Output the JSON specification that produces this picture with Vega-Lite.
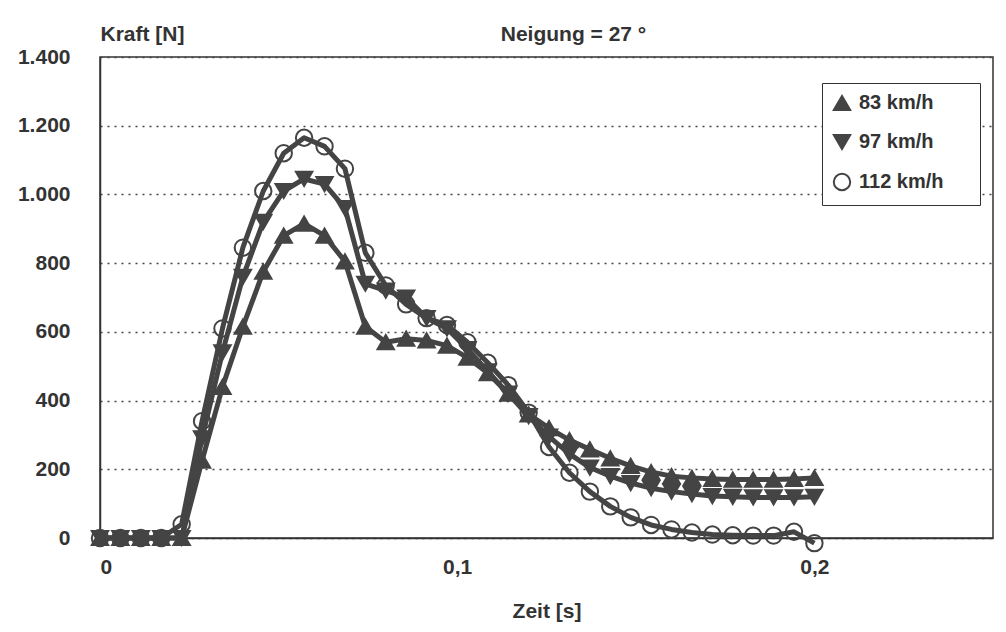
{
  "$schema": "https://vega.github.io/schema/vega-lite/v6.json",
  "width": 893,
  "height": 481,
  "autosize": {"type": "none"},
  "padding": {"left": 100, "top": 57, "right": 13, "bottom": 94},
  "background": "white",
  "config": {
    "locale": {"number": {"decimal": ",", "thousands": ".", "grouping": [3], "currency": ["", " €"]}},
    "font": "Liberation Sans",
    "view": {"stroke": "#333", "strokeWidth": 1.5}
  },
  "title": {
    "text": "Neigung = 27 °",
    "frame": "group",
    "anchor": "middle",
    "dx": 27,
    "offset": -39,
    "baseline": "alphabetic",
    "fontSize": 21,
    "fontWeight": "bold",
    "color": "#333",
    "font": "Liberation Sans"
  },
  "data": {
    "values": [
      {"t": 0, "f": 0, "s": "83 km/h"},
      {"t": 0.00571, "f": 0, "s": "83 km/h"},
      {"t": 0.01143, "f": 0, "s": "83 km/h"},
      {"t": 0.01714, "f": 0, "s": "83 km/h"},
      {"t": 0.02286, "f": 0, "s": "83 km/h"},
      {"t": 0.02857, "f": 225, "s": "83 km/h"},
      {"t": 0.03429, "f": 440, "s": "83 km/h"},
      {"t": 0.04, "f": 615, "s": "83 km/h"},
      {"t": 0.04571, "f": 775, "s": "83 km/h"},
      {"t": 0.05143, "f": 880, "s": "83 km/h"},
      {"t": 0.05714, "f": 915, "s": "83 km/h"},
      {"t": 0.06286, "f": 880, "s": "83 km/h"},
      {"t": 0.06857, "f": 805, "s": "83 km/h"},
      {"t": 0.07429, "f": 615, "s": "83 km/h"},
      {"t": 0.08, "f": 570, "s": "83 km/h"},
      {"t": 0.08571, "f": 580, "s": "83 km/h"},
      {"t": 0.09143, "f": 575, "s": "83 km/h"},
      {"t": 0.09714, "f": 560, "s": "83 km/h"},
      {"t": 0.10286, "f": 525, "s": "83 km/h"},
      {"t": 0.10857, "f": 480, "s": "83 km/h"},
      {"t": 0.11429, "f": 420, "s": "83 km/h"},
      {"t": 0.12, "f": 360, "s": "83 km/h"},
      {"t": 0.12571, "f": 320, "s": "83 km/h"},
      {"t": 0.13143, "f": 285, "s": "83 km/h"},
      {"t": 0.13714, "f": 258, "s": "83 km/h"},
      {"t": 0.14286, "f": 232, "s": "83 km/h"},
      {"t": 0.14857, "f": 210, "s": "83 km/h"},
      {"t": 0.15429, "f": 192, "s": "83 km/h"},
      {"t": 0.16, "f": 180, "s": "83 km/h"},
      {"t": 0.16571, "f": 175, "s": "83 km/h"},
      {"t": 0.17143, "f": 172, "s": "83 km/h"},
      {"t": 0.17714, "f": 170, "s": "83 km/h"},
      {"t": 0.18286, "f": 170, "s": "83 km/h"},
      {"t": 0.18857, "f": 170, "s": "83 km/h"},
      {"t": 0.19429, "f": 172, "s": "83 km/h"},
      {"t": 0.2, "f": 175, "s": "83 km/h"},
      {"t": 0, "f": 0, "s": "97 km/h"},
      {"t": 0.00571, "f": 0, "s": "97 km/h"},
      {"t": 0.01143, "f": 0, "s": "97 km/h"},
      {"t": 0.01714, "f": 0, "s": "97 km/h"},
      {"t": 0.02286, "f": 0, "s": "97 km/h"},
      {"t": 0.02857, "f": 290, "s": "97 km/h"},
      {"t": 0.03429, "f": 540, "s": "97 km/h"},
      {"t": 0.04, "f": 760, "s": "97 km/h"},
      {"t": 0.04571, "f": 920, "s": "97 km/h"},
      {"t": 0.05143, "f": 1010, "s": "97 km/h"},
      {"t": 0.05714, "f": 1045, "s": "97 km/h"},
      {"t": 0.06286, "f": 1030, "s": "97 km/h"},
      {"t": 0.06857, "f": 960, "s": "97 km/h"},
      {"t": 0.07429, "f": 740, "s": "97 km/h"},
      {"t": 0.08, "f": 720, "s": "97 km/h"},
      {"t": 0.08571, "f": 700, "s": "97 km/h"},
      {"t": 0.09143, "f": 640, "s": "97 km/h"},
      {"t": 0.09714, "f": 610, "s": "97 km/h"},
      {"t": 0.10286, "f": 550, "s": "97 km/h"},
      {"t": 0.10857, "f": 485, "s": "97 km/h"},
      {"t": 0.11429, "f": 420, "s": "97 km/h"},
      {"t": 0.12, "f": 355, "s": "97 km/h"},
      {"t": 0.12571, "f": 295, "s": "97 km/h"},
      {"t": 0.13143, "f": 245, "s": "97 km/h"},
      {"t": 0.13714, "f": 205, "s": "97 km/h"},
      {"t": 0.14286, "f": 180, "s": "97 km/h"},
      {"t": 0.14857, "f": 160, "s": "97 km/h"},
      {"t": 0.15429, "f": 145, "s": "97 km/h"},
      {"t": 0.16, "f": 135, "s": "97 km/h"},
      {"t": 0.16571, "f": 128, "s": "97 km/h"},
      {"t": 0.17143, "f": 122, "s": "97 km/h"},
      {"t": 0.17714, "f": 120, "s": "97 km/h"},
      {"t": 0.18286, "f": 118, "s": "97 km/h"},
      {"t": 0.18857, "f": 118, "s": "97 km/h"},
      {"t": 0.19429, "f": 118, "s": "97 km/h"},
      {"t": 0.2, "f": 120, "s": "97 km/h"},
      {"t": 0, "f": 0, "s": "112 km/h"},
      {"t": 0.00571, "f": 0, "s": "112 km/h"},
      {"t": 0.01143, "f": 0, "s": "112 km/h"},
      {"t": 0.01714, "f": 0, "s": "112 km/h"},
      {"t": 0.02286, "f": 40, "s": "112 km/h"},
      {"t": 0.02857, "f": 340, "s": "112 km/h"},
      {"t": 0.03429, "f": 610, "s": "112 km/h"},
      {"t": 0.04, "f": 845, "s": "112 km/h"},
      {"t": 0.04571, "f": 1010, "s": "112 km/h"},
      {"t": 0.05143, "f": 1120, "s": "112 km/h"},
      {"t": 0.05714, "f": 1165, "s": "112 km/h"},
      {"t": 0.06286, "f": 1140, "s": "112 km/h"},
      {"t": 0.06857, "f": 1075, "s": "112 km/h"},
      {"t": 0.07429, "f": 830, "s": "112 km/h"},
      {"t": 0.08, "f": 735, "s": "112 km/h"},
      {"t": 0.08571, "f": 680, "s": "112 km/h"},
      {"t": 0.09143, "f": 640, "s": "112 km/h"},
      {"t": 0.09714, "f": 620, "s": "112 km/h"},
      {"t": 0.10286, "f": 570, "s": "112 km/h"},
      {"t": 0.10857, "f": 510, "s": "112 km/h"},
      {"t": 0.11429, "f": 445, "s": "112 km/h"},
      {"t": 0.12, "f": 365, "s": "112 km/h"},
      {"t": 0.12571, "f": 265, "s": "112 km/h"},
      {"t": 0.13143, "f": 190, "s": "112 km/h"},
      {"t": 0.13714, "f": 135, "s": "112 km/h"},
      {"t": 0.14286, "f": 92, "s": "112 km/h"},
      {"t": 0.14857, "f": 60, "s": "112 km/h"},
      {"t": 0.15429, "f": 38, "s": "112 km/h"},
      {"t": 0.16, "f": 25, "s": "112 km/h"},
      {"t": 0.16571, "f": 16, "s": "112 km/h"},
      {"t": 0.17143, "f": 10, "s": "112 km/h"},
      {"t": 0.17714, "f": 8, "s": "112 km/h"},
      {"t": 0.18286, "f": 7, "s": "112 km/h"},
      {"t": 0.18857, "f": 7, "s": "112 km/h"},
      {"t": 0.19429, "f": 18, "s": "112 km/h"},
      {"t": 0.2, "f": -15, "s": "112 km/h"}
    ]
  },
  "encoding": {
    "x": {
      "field": "t",
      "type": "quantitative",
      "scale": {"domain": [0, 0.25], "nice": false, "zero": false},
      "axis": {
        "values": [0, 0.1, 0.2],
        "format": ".1~f",
        "title": "Zeit [s]",
        "titleFontSize": 21,
        "titleFontWeight": "bold",
        "titleColor": "#333",
        "titlePadding": 23,
        "labelFontSize": 21,
        "labelFontWeight": "bold",
        "labelColor": "#333",
        "labelPadding": 18,
        "labelBaseline": "top",
        "ticks": false,
        "grid": false,
        "domainColor": "#333",
        "domainWidth": 1.5
      }
    },
    "y": {
      "field": "f",
      "type": "quantitative",
      "scale": {"domain": [0, 1400], "nice": false},
      "axis": {
        "values": [0, 200, 400, 600, 800, 1000, 1200, 1400],
        "format": ",d",
        "title": "Kraft [N]",
        "titleAngle": 0,
        "titleX": 0,
        "titleY": -17,
        "titleAlign": "left",
        "titleBaseline": "alphabetic",
        "titleFontSize": 21,
        "titleFontWeight": "bold",
        "titleColor": "#333",
        "labelFontSize": 21,
        "labelFontWeight": "bold",
        "labelColor": "#333",
        "labelPadding": 30,
        "ticks": false,
        "grid": true,
        "gridDash": [2, 5],
        "gridColor": "#444",
        "gridWidth": 1.5,
        "domainColor": "#333",
        "domainWidth": 1.5
      }
    }
  },
  "layer": [
    {
      "mark": {"type": "line", "color": "#444", "strokeWidth": 5, "strokeJoin": "round"},
      "encoding": {"detail": {"field": "s"}}
    },
    {
      "mark": {"type": "point", "opacity": 1, "strokeWidth": 2, "size": 270},
      "encoding": {
        "shape": {
          "field": "s",
          "type": "nominal",
          "scale": {"domain": ["83 km/h", "97 km/h", "112 km/h"], "range": ["triangle-up", "triangle-down", "circle"]},
          "legend": {
            "orient": "none",
            "legendX": 722,
            "legendY": 26,
            "title": null,
            "strokeColor": "#333",
            "fillColor": "white",
            "padding": 10,
            "labelFontSize": 20,
            "labelFontWeight": "bold",
            "labelColor": "#333",
            "labelFont": "Liberation Sans",
            "labelOffset": 7,
            "labelExpr": "datum.label + '\u00a0\u00a0\u2800'",
            "labelLimit": 300,
            "symbolSize": 270,
            "symbolStrokeWidth": 2,
            "symbolOpacity": 1,
            "rowPadding": 15
          }
        },
        "fill": {
          "field": "s",
          "type": "nominal",
          "scale": {"domain": ["83 km/h", "97 km/h", "112 km/h"], "range": ["#444444", "#444444", "rgba(255,255,255,0)"]},
          "legend": {
            "orient": "none",
            "legendX": 722,
            "legendY": 26,
            "title": null,
            "strokeColor": "#333",
            "fillColor": "white",
            "padding": 10,
            "labelFontSize": 20,
            "labelFontWeight": "bold",
            "labelColor": "#333",
            "labelFont": "Liberation Sans",
            "labelOffset": 7,
            "labelExpr": "datum.label + '\u00a0\u00a0\u2800'",
            "labelLimit": 300,
            "symbolSize": 270,
            "symbolStrokeWidth": 2,
            "symbolOpacity": 1,
            "rowPadding": 15
          }
        },
        "stroke": {
          "field": "s",
          "type": "nominal",
          "scale": {"domain": ["83 km/h", "97 km/h", "112 km/h"], "range": ["#444444", "#444444", "#444444"]},
          "legend": {
            "orient": "none",
            "legendX": 722,
            "legendY": 26,
            "title": null,
            "strokeColor": "#333",
            "fillColor": "white",
            "padding": 10,
            "labelFontSize": 20,
            "labelFontWeight": "bold",
            "labelColor": "#333",
            "labelFont": "Liberation Sans",
            "labelOffset": 7,
            "labelExpr": "datum.label + '\u00a0\u00a0\u2800'",
            "labelLimit": 300,
            "symbolSize": 270,
            "symbolStrokeWidth": 2,
            "symbolOpacity": 1,
            "rowPadding": 15
          }
        }
      }
    }
  ]
}
